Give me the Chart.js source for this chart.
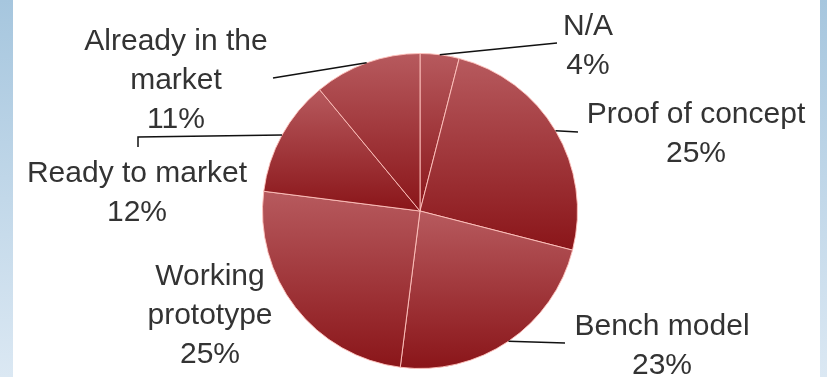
<!DOCTYPE html>
<html>
<head>
<meta charset="utf-8">
<script src="https://cdn.jsdelivr.net/npm/chart.js@4.4.1/dist/chart.umd.min.js"></script>
<style>
    html, body { margin: 0; padding: 0; background: #fff; }
    #wrap { position: relative; width: 827px; height: 377px; overflow: hidden; background: #fff; }
    .strip { position: absolute; top: 0; height: 377px; background: linear-gradient(#a6c6de, #dbe8f3); }
    #chart { position: absolute; left: 0; top: 0; }
</style>
</head>
<body>
<div id="wrap">
    <div class="strip" style="left:0;width:13px"></div>
    <div class="strip" style="left:820px;width:7px"></div>
    <canvas id="chart" width="827" height="377"></canvas>
</div>
<script>
// data
const categories = ['N/A', 'Proof of concept', 'Bench model', 'Working prototype', 'Ready to market', 'Already in the market'];
const shares = [4, 25, 23, 25, 12, 11];
const labelLines = [['N/A'], ['Proof of concept'], ['Bench model'], ['Working', 'prototype'], ['Ready to market'], ['Already in the', 'market']];

// where each label sits, relative to pie centre (dx, dy of first baseline), and leader line path
const labelLayout = [
    { x: 168, y: -176, line: [[137, -168]] },
    { x: 276, y: -88, line: [[158, -79]] },
    { x: 242, y: 124, line: [[145, 132]] },
    { x: -210, y: 74, line: null },
    { x: -283, y: -29, line: [[-282, -74], [-282, -64]] },
    { x: -244, y: -161, line: [[-147, -133]] }
];

function sliceGradient(ctx) {
    const chart = ctx.chart;
    const area = chart.chartArea;
    if (!area) return '#a03034';
    const cx = (area.left + area.right) / 2;
    const cy = (area.top + area.bottom) / 2;
    const r = Math.min(area.width, area.height) / 2;
    const total = shares.reduce((a, b) => a + b, 0);
    let before = 0;
    for (let i = 0; i < ctx.dataIndex; i++) before += shares[i];
    const a0 = -Math.PI / 2 + before / total * Math.PI * 2;
    const a1 = a0 + shares[ctx.dataIndex] / total * Math.PI * 2;
    let ys = [cy, cy + r * Math.sin(a0), cy + r * Math.sin(a1)];
    [Math.PI / 2, Math.PI * 1.5, -Math.PI / 2].forEach(function(k) {
        if (k > a0 && k < a1) ys.push(cy + r * Math.sin(k));
    });
    const top = Math.min.apply(null, ys);
    const bottom = Math.max.apply(null, ys);
    const g = chart.ctx.createLinearGradient(0, top, 0, bottom);
    g.addColorStop(0, '#b75a5e');
    g.addColorStop(1, '#8a1519');
    return g;
}

const pieLabels = {
    id: 'pieLabels',
    afterDatasetsDraw(chart) {
        const ctx = chart.ctx;
        const arcs = chart.getDatasetMeta(0).data;
        ctx.save();
        arcs.forEach(function(arc, i) {
            const p = arc.getProps(['x', 'y', 'startAngle', 'endAngle', 'outerRadius'], true);
            const mid = (p.startAngle + p.endAngle) / 2;
            const lay = labelLayout[i];
            if (lay.line) {
                ctx.beginPath();
                ctx.strokeStyle = '#111';
                ctx.lineWidth = 1.5;
                ctx.moveTo(p.x + Math.cos(mid) * p.outerRadius, p.y + Math.sin(mid) * p.outerRadius);
                lay.line.forEach(function(pt) {
                    ctx.lineTo(p.x + pt[0], p.y + pt[1]);
                });
                ctx.stroke();
            }
            const lines = labelLines[i].concat([shares[i] + '%']);
            ctx.fillStyle = '#333';
            ctx.font = '30px "Liberation Sans", Arial, sans-serif';
            ctx.textAlign = 'center';
            ctx.textBaseline = 'alphabetic';
            lines.forEach(function(t, j) {
                ctx.fillText(t, p.x + lay.x, p.y + lay.y + j * 39);
            });
        });
        ctx.restore();
    }
};

function initChart() {
    new Chart(document.getElementById('chart'), {
        type: 'pie',
        data: {
            labels: categories,
            datasets: [{
                data: shares,
                backgroundColor: sliceGradient,
                borderColor: 'rgba(255, 195, 190, 0.9)',
                borderWidth: 1,
                hoverOffset: 0,
                offset: 0
            }]
        },
        options: {
            responsive: false,
            animation: false,
            devicePixelRatio: 1,
            layout: {
                padding: { top: 53, bottom: 8, left: 100, right: 87 }
            },
            plugins: {
                legend: { display: false },
                tooltip: { enabled: false }
            }
        },
        plugins: [pieLabels]
    });
}

initChart();
</script>
</body>
</html>
